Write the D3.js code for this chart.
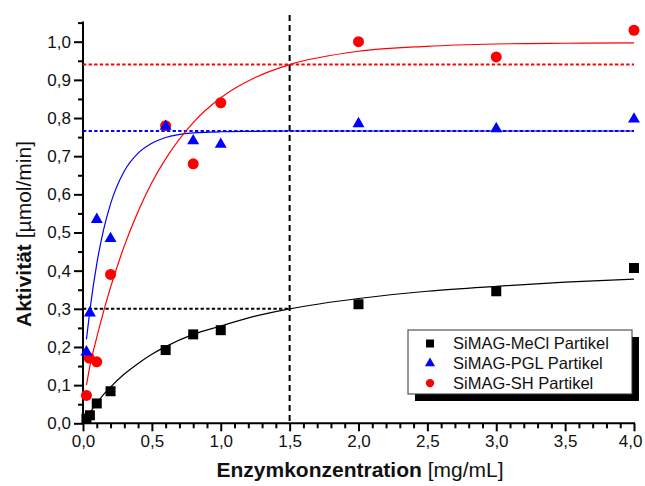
<!DOCTYPE html>
<html>

<head>
    <title>Enzymaktivitaet</title>
    <script src="https://d3js.org/d3.v7.min.js"></script>
    <style>
        body { margin: 0; background: #fff; }
        text { font-family: Arial, "Liberation Sans", sans-serif; }
    </style>
</head>

<body>
    <script>
        // measured points (x = Enzymkonzentration mg/mL, y = Aktivitaet umol/min)
        var xConc = [0.025, 0.05, 0.1, 0.2, 0.6, 0.8, 1.0, 2.0, 3.0, 4.0];
        var yMeCl = [0.012, 0.021, 0.052, 0.084, 0.192, 0.233, 0.244, 0.312, 0.346, 0.407];
        var yPGL = [0.187, 0.289, 0.534, 0.484, 0.778, 0.740, 0.731, 0.785, 0.772, 0.797];
        var ySH = [0.073, 0.171, 0.161, 0.390, 0.780, 0.680, 0.840, 1.000, 0.960, 1.030];
        var xConcRed = [0.025, 0.045, 0.1, 0.2, 0.6, 0.8, 1.0, 2.0, 3.0, 4.0];

        // fitted curves
        var fitX = [0.025, 0.05, 0.1, 0.15, 0.2, 0.3, 0.4, 0.5, 0.6, 0.8, 1.0, 1.25, 1.5, 2.0, 2.5, 3.0, 3.5, 4.0];
        var fitMeCl = [0.015, 0.028, 0.053, 0.076, 0.095, 0.129, 0.157, 0.181, 0.201, 0.233, 0.255, 0.281, 0.300, 0.327, 0.346, 0.359, 0.370, 0.378];
        var fitPGL = [0.220, 0.296, 0.418, 0.508, 0.575, 0.661, 0.708, 0.734, 0.749, 0.761, 0.764, 0.765, 0.766, 0.766, 0.766, 0.766, 0.766, 0.766];
        var fitSH = [0.100, 0.150, 0.225, 0.294, 0.356, 0.465, 0.555, 0.631, 0.693, 0.788, 0.853, 0.906, 0.940, 0.975, 0.988, 0.994, 0.996, 0.997];

        // reference levels
        var levelSH = 0.94, levelPGL = 0.766, levelMeCl = 0.30, xHalf = 1.5;

        var legendNames = ["SiMAG-MeCl Partikel", "SiMAG-PGL Partikel", "SiMAG-SH Partikel"];
        var xTicks = [0, 0.5, 1.0, 1.5, 2.0, 2.5, 3.0, 3.5, 4.0];
        var yTicks = [0, 0.1, 0.2, 0.3, 0.4, 0.5, 0.6, 0.7, 0.8, 0.9, 1.0];

        var width = 645, height = 486;
        var svg = d3.select("body").append("svg")
            .attr("width", width)
            .attr("height", height);

        var x = d3.scaleLinear().domain([0, 4]).range([83, 634]);
        var y = d3.scaleLinear().domain([0, 1]).range([423.3, 41.7]);

        var fmt = function (d) { return d3.format(".1f")(d).replace(".", ","); };

        // axes with minor ticks
        var xMinor = d3.range(0, 4.001, 0.1).filter(function (d) { return Math.abs(d * 2 - Math.round(d * 2)) > 1e-6; });
        var yMinor = d3.range(0.05, 1.06, 0.1);

        svg.append("g")
            .attr("transform", "translate(0," + y(0) + ")")
            .call(d3.axisBottom(x).tickValues(xMinor).tickSize(5).tickFormat(""))
            .call(function (g) { g.select(".domain").remove(); g.selectAll("line").attr("stroke-width", 2); });
        svg.append("g")
            .attr("transform", "translate(0," + y(0) + ")")
            .call(d3.axisBottom(x).tickValues(xTicks).tickSize(8).tickPadding(4).tickFormat(fmt))
            .call(function (g) {
                g.select(".domain").remove();
                g.selectAll("line").attr("stroke-width", 2);
                g.selectAll("text").style("font-size", "17px").attr("fill", "#111");
                // last label pulled in so it stays inside the page, as in the original
                g.selectAll("text").filter(function (d) { return d === 4; })
                    .attr("text-anchor", "end").attr("x", 642 - x(4));
            });
        svg.append("line")
            .attr("x1", x(0) - 1).attr("x2", x(4) + 1)
            .attr("y1", y(0)).attr("y2", y(0))
            .attr("stroke", "#000").attr("stroke-width", 2);

        svg.append("g")
            .attr("transform", "translate(" + x(0) + ",0)")
            .call(d3.axisLeft(y).tickValues(yMinor).tickSize(5).tickFormat(""))
            .call(function (g) { g.select(".domain").remove(); g.selectAll("line").attr("stroke-width", 2); });
        svg.append("g")
            .attr("transform", "translate(" + x(0) + ",0)")
            .call(d3.axisLeft(y).tickValues(yTicks).tickSize(9).tickPadding(3).tickFormat(fmt))
            .call(function (g) {
                g.select(".domain").remove();
                g.selectAll("line").attr("stroke-width", 2);
                g.selectAll("text").style("font-size", "17px").attr("fill", "#111");
            });
        svg.append("line")
            .attr("x1", x(0)).attr("x2", x(0))
            .attr("y1", y(1.05) - 1).attr("y2", y(0) + 1)
            .attr("stroke", "#000").attr("stroke-width", 2);

        // reference lines
        svg.append("line")
            .attr("x1", x(0)).attr("x2", x(4))
            .attr("y1", y(levelSH)).attr("y2", y(levelSH))
            .attr("stroke", "#ff0000").attr("stroke-width", 2).attr("stroke-dasharray", "3.3,2.3");
        svg.append("line")
            .attr("x1", x(0)).attr("x2", x(4))
            .attr("y1", y(levelPGL)).attr("y2", y(levelPGL))
            .attr("stroke", "#0000ff").attr("stroke-width", 2).attr("stroke-dasharray", "3.3,2.3");
        svg.append("line")
            .attr("x1", x(0)).attr("x2", x(xHalf))
            .attr("y1", y(levelMeCl)).attr("y2", y(levelMeCl))
            .attr("stroke", "#000").attr("stroke-width", 2).attr("stroke-dasharray", "3.3,2.3");
        svg.append("line")
            .attr("x1", x(xHalf)).attr("x2", x(xHalf))
            .attr("y1", y(1.07)).attr("y2", y(0))
            .attr("stroke", "#000").attr("stroke-width", 2).attr("stroke-dasharray", "6,4");

        // fit curves
        var line = d3.line()
            .x(function (d) { return x(d[0]); })
            .y(function (d) { return y(d[1]); })
            .curve(d3.curveMonotoneX);

        function drawFit(vals, color) {
            svg.append("path")
                .datum(fitX.map(function (v, i) { return [v, vals[i]]; }))
                .attr("d", line)
                .attr("fill", "none")
                .attr("stroke", color)
                .attr("stroke-width", 1.2);
        }
        drawFit(fitMeCl, "#000");
        drawFit(fitPGL, "#0000ff");
        drawFit(fitSH, "#ff0000");

        // markers
        var square = d3.symbol().type(d3.symbolSquare).size(100);
        var triangle = d3.symbol().type(d3.symbolTriangle).size(62);

        svg.append("g").selectAll("path")
            .data(xConc.map(function (v, i) { return [v, yMeCl[i]]; }))
            .enter().append("path")
            .attr("d", square)
            .attr("transform", function (d) { return "translate(" + x(d[0]) + "," + y(d[1]) + ")"; })
            .attr("fill", "#000");

        svg.append("g").selectAll("circle")
            .data(xConcRed.map(function (v, i) { return [v, ySH[i]]; }))
            .enter().append("circle")
            .attr("cx", function (d) { return x(d[0]); })
            .attr("cy", function (d) { return y(d[1]); })
            .attr("r", 5.5)
            .attr("fill", "#ff0000");

        svg.append("g").selectAll("path")
            .data(xConc.map(function (v, i) { return [v, yPGL[i]]; }))
            .enter().append("path")
            .attr("d", triangle)
            .attr("transform", function (d) { return "translate(" + x(d[0]) + "," + y(d[1]) + ")"; })
            .attr("fill", "#0000ff");

        // legend
        var lg = svg.append("g").attr("transform", "translate(408,330)");
        lg.append("rect").attr("x", 7).attr("y", 7).attr("width", 224).attr("height", 64).attr("fill", "#000");
        lg.append("rect").attr("x", 0).attr("y", 0).attr("width", 224).attr("height", 64)
            .attr("fill", "#fff").attr("stroke", "#333").attr("stroke-width", 1);
        var legendSym = [
            d3.symbol().type(d3.symbolSquare).size(64)(),
            d3.symbol().type(d3.symbolTriangle).size(44)(),
            d3.symbol().type(d3.symbolCircle).size(55)()
        ];
        var legendCol = ["#000", "#0000ff", "#ff0000"];
        legendNames.forEach(function (name, i) {
            var row = lg.append("g").attr("transform", "translate(0," + (13.5 + i * 19.8) + ")");
            row.append("path").attr("d", legendSym[i]).attr("transform", "translate(22,0)").attr("fill", legendCol[i]);
            row.append("text").attr("x", 45).attr("dy", "0.35em")
                .style("font-size", "16.5px").attr("fill", "#111").text(name);
        });

        // axis titles
        var xt = svg.append("text")
            .attr("x", 360).attr("y", 477)
            .attr("text-anchor", "middle")
            .style("font-size", "21px").attr("fill", "#111");
        xt.append("tspan").style("font-weight", "bold").text("Enzymkonzentration");
        xt.append("tspan").text(" [mg/mL]");

        var yt = svg.append("text")
            .attr("transform", "translate(31,234) rotate(-90)")
            .attr("text-anchor", "middle")
            .style("font-size", "21px").attr("fill", "#111");
        yt.append("tspan").style("font-weight", "bold").text("Aktivität");
        yt.append("tspan").text(" [µmol/min]");
    </script>
</body>

</html>
